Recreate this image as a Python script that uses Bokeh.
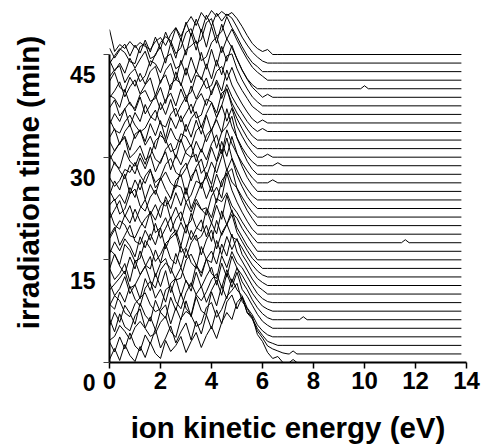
from bokeh.plotting import figure
from bokeh.models import Range1d, FixedTicker, LinearAxis
from bokeh.embed import file_html
from bokeh.resources import INLINE

# ---------------- data ----------------
# ion kinetic energy grid (eV) of the measured part of every spectrum
energy = [0.0, 0.2, 0.4, 0.6, 0.8, 1.0, 1.2, 1.4, 1.6, 1.8, 2.0, 2.2, 2.4, 2.6, 2.8,
          3.0, 3.2, 3.4, 3.6, 3.8, 4.0, 4.2, 4.4, 4.6, 4.8, 5.0, 5.2, 5.4, 5.6, 5.8,
          6.0, 6.2, 6.4, 6.6, 6.8, 7.0]
end_energy = 13.8

# irradiation time of each spectrum (min)
times = [0, 1.25, 2.5, 3.75, 5, 6.25, 7.5, 8.75, 10, 11.25, 12.5, 13.75, 15, 16.25,
         17.5, 18.75, 20, 21.25, 22.5, 23.75, 25, 26.25, 27.5, 28.75, 30, 31.25, 32.5,
         33.75, 35, 36.25, 37.5, 38.75, 40, 41.25, 42.5, 43.75, 45]

# ion counts (arbitrary units) on the energy grid, one list per spectrum
s00 = [3, 14, 2, 18, 7, 1, 16, 5, 20, 9, 4, 22, 11, 17, 26, 10, 21, 30, 15, 27, 36, 24, 40, 50, 43, 60, 66, 50, 46, 28, 21, 10, 4, 6, 0, 0]
s01 = [12, 2, 17, 5, 21, 8, 3, 19, 10, 25, 6, 16, 28, 11, 22, 31, 14, 33, 20, 39, 25, 44, 30, 52, 59, 45, 57, 41, 35, 23, 16, 8, 5, 3, 1, 0]
s02 = [5, 9, 20, 14, 6, 18, 24, 17, 9, 12, 23, 29, 14, 8, 27, 34, 30, 19, 22, 38, 43, 28, 36, 49, 55, 62, 44, 37, 27, 17, 10, 4, 2, 0, 0, 0]
s03 = [18, 5, 23, 10, 6, 21, 28, 9, 20, 7, 26, 32, 13, 29, 17, 36, 20, 40, 26, 22, 45, 31, 51, 38, 58, 47, 41, 29, 22, 12, 6, 2, 0, 0, 0, 0]
s04 = [2, 16, 6, 23, 15, 4, 25, 13, 7, 28, 16, 10, 31, 18, 35, 20, 13, 34, 42, 26, 38, 48, 33, 55, 41, 56, 39, 32, 23, 14, 7, 3, 0, 0, 0, 0]
s05 = [14, 24, 19, 7, 3, 16, 22, 27, 15, 8, 11, 30, 34, 18, 11, 27, 37, 25, 19, 28, 40, 46, 32, 50, 37, 52, 38, 30, 20, 12, 6, 2, 0, 0, 0, 0]
s06 = [7, 2, 19, 9, 25, 12, 5, 23, 30, 13, 22, 9, 28, 33, 15, 31, 20, 39, 24, 35, 44, 26, 48, 34, 55, 43, 36, 27, 18, 11, 5, 2, 0, 0, 0, 0]
s07 = [20, 7, 14, 26, 9, 18, 4, 24, 12, 29, 16, 32, 10, 25, 35, 21, 16, 38, 26, 44, 29, 24, 47, 35, 51, 40, 35, 26, 17, 9, 4, 1, 0, 0, 0, 0]
s08 = [4, 10, 16, 23, 6, 9, 19, 28, 13, 6, 24, 31, 26, 14, 16, 34, 40, 29, 21, 35, 43, 30, 50, 38, 60, 42, 33, 24, 15, 8, 4, 0, 0, 0, 0, 0]
s09 = [17, 6, 12, 22, 4, 25, 11, 19, 29, 9, 22, 27, 12, 32, 18, 37, 23, 17, 39, 26, 23, 45, 31, 49, 36, 47, 31, 23, 14, 7, 3, 0, 0, 0, 0, 0]
s10 = [8, 23, 11, 3, 20, 8, 26, 12, 8, 27, 14, 33, 18, 13, 31, 19, 34, 42, 22, 37, 47, 28, 44, 53, 40, 37, 29, 20, 12, 6, 2, 0, 0, 0, 0, 0]
s11 = [19, 14, 4, 24, 18, 7, 10, 28, 20, 7, 14, 25, 30, 35, 16, 21, 38, 28, 32, 43, 27, 48, 33, 44, 54, 36, 27, 18, 10, 5, 0, 0, 0, 0, 0, 0]
s12 = [6, 18, 9, 21, 14, 3, 23, 12, 26, 15, 32, 11, 24, 30, 14, 35, 20, 31, 40, 23, 37, 26, 49, 35, 50, 32, 23, 14, 7, 0, 0, 0, 0, 0, 0, 0]
s13 = [15, 24, 6, 16, 26, 10, 7, 21, 11, 28, 13, 23, 34, 16, 29, 18, 38, 24, 20, 42, 28, 46, 32, 56, 39, 33, 23, 15, 7, 0, 0, 0, 0, 0, 0, 0]
s14 = [4, 13, 22, 18, 7, 5, 16, 24, 30, 10, 15, 25, 11, 24, 31, 16, 22, 40, 33, 35, 25, 44, 41, 50, 37, 30, 21, 13, 6, 0, 0, 0, 0, 0, 0, 0]
s15 = [23, 9, 5, 19, 11, 25, 13, 6, 23, 14, 28, 34, 15, 27, 13, 32, 22, 35, 25, 19, 38, 47, 36, 61, 44, 32, 22, 13, 5, 0, 0, 0, 0, 0, 0, 0]
s16 = [7, 16, 25, 9, 20, 4, 17, 26, 11, 21, 8, 29, 17, 33, 20, 38, 17, 30, 43, 27, 40, 23, 45, 52, 57, 37, 25, 15, 7, 0, 0, 0, 0, 0, 0, 0]
s17 = [12, 18, 3, 8, 23, 28, 11, 6, 20, 27, 15, 11, 18, 32, 30, 15, 22, 36, 33, 40, 25, 43, 30, 48, 35, 29, 20, 12, 5, 0, 0, 0, 0, 0, 0, 0]
s18 = [18, 8, 14, 5, 21, 11, 29, 9, 24, 14, 31, 19, 10, 28, 34, 14, 32, 39, 20, 36, 24, 46, 59, 38, 50, 33, 22, 12, 5, 0, 0, 0, 0, 0, 0, 0]
s19 = [5, 19, 10, 26, 6, 20, 10, 24, 31, 12, 20, 28, 17, 12, 30, 37, 19, 33, 41, 23, 38, 27, 43, 62, 42, 30, 19, 11, 4, 0, 0, 0, 0, 0, 0, 0]
s20 = [14, 5, 11, 22, 19, 29, 16, 8, 21, 9, 14, 27, 33, 19, 15, 23, 34, 37, 18, 25, 44, 30, 50, 35, 55, 38, 25, 14, 6, 0, 0, 0, 0, 0, 0, 0]
s21 = [8, 21, 12, 4, 18, 9, 25, 14, 28, 11, 22, 31, 13, 28, 18, 32, 38, 21, 34, 23, 39, 48, 29, 53, 39, 29, 20, 12, 5, 0, 0, 0, 3, 0, 0, 0]
s22 = [20, 10, 6, 24, 13, 8, 21, 10, 27, 15, 11, 25, 31, 16, 35, 21, 17, 33, 22, 39, 45, 26, 42, 48, 58, 36, 24, 13, 5, 0, 0, 0, 0, 0, 0, 0]
s23 = [6, 15, 23, 28, 8, 13, 20, 6, 10, 25, 30, 26, 14, 17, 32, 29, 19, 35, 40, 24, 36, 46, 33, 57, 39, 28, 18, 10, 4, 0, 0, 0, 0, 3, 0, 0]
s24 = [16, 6, 14, 21, 7, 23, 27, 12, 21, 8, 26, 14, 29, 18, 15, 33, 20, 37, 23, 42, 26, 40, 52, 36, 49, 31, 21, 12, 5, 0, 0, 3, 0, 0, 0, 0]
s25 = [11, 20, 4, 17, 24, 10, 19, 7, 25, 13, 28, 10, 31, 20, 33, 17, 30, 37, 21, 35, 46, 31, 43, 60, 42, 30, 20, 11, 4, 0, 0, 0, 0, 0, 0, 0]
s26 = [21, 10, 7, 18, 25, 15, 8, 12, 22, 30, 16, 13, 26, 32, 18, 27, 36, 22, 25, 41, 38, 27, 47, 51, 37, 27, 19, 11, 4, 0, 0, 0, 0, 0, 0, 0]
s27 = [7, 18, 10, 23, 5, 19, 10, 27, 15, 11, 29, 17, 32, 15, 26, 35, 18, 31, 38, 26, 40, 49, 33, 47, 35, 26, 18, 10, 4, 0, 3, 0, 0, 0, 0, 0]
s28 = [15, 23, 7, 14, 21, 12, 26, 9, 18, 28, 13, 23, 30, 17, 34, 21, 37, 24, 35, 45, 28, 43, 32, 53, 38, 28, 19, 11, 4, 0, 3, 0, 0, 0, 0, 0]
s29 = [19, 16, 7, 25, 10, 6, 20, 24, 13, 16, 27, 11, 30, 35, 31, 18, 22, 39, 37, 26, 29, 43, 48, 34, 47, 33, 24, 16, 8, 4, 0, 0, 0, 0, 0, 0]
s30 = [8, 15, 24, 9, 19, 26, 12, 21, 28, 10, 25, 31, 16, 34, 20, 38, 23, 35, 26, 42, 27, 46, 31, 50, 52, 37, 26, 17, 9, 4, 0, 0, 0, 0, 0, 0]
s31 = [16, 25, 10, 6, 20, 11, 24, 13, 26, 31, 14, 27, 34, 17, 37, 22, 40, 25, 45, 28, 48, 31, 51, 36, 52, 38, 27, 18, 10, 5, 0, 3, 0, 0, 0, 0]
s32 = [12, 19, 23, 6, 15, 20, 7, 13, 28, 25, 16, 31, 35, 20, 24, 39, 43, 48, 28, 32, 46, 52, 36, 50, 41, 30, 19, 10, 4, 0, 0, 0, 0, 0, 0, 0]
s33 = [20, 9, 17, 7, 22, 12, 21, 29, 14, 26, 33, 17, 37, 22, 42, 25, 47, 30, 51, 33, 54, 37, 56, 41, 51, 40, 30, 21, 13, 8, 4, 0, 0, 0, 0, 0]
s34 = [8, 16, 23, 19, 10, 8, 25, 28, 13, 16, 29, 35, 31, 18, 24, 39, 43, 28, 32, 49, 53, 35, 40, 55, 44, 35, 25, 16, 9, 5, 0, 0, 0, 0, 0, 0]
s35 = [15, 5, 13, 19, 7, 18, 10, 23, 11, 26, 14, 31, 19, 35, 23, 41, 27, 44, 31, 48, 37, 50, 42, 49, 45, 36, 26, 18, 11, 6, 2, 0, 0, 0, 0, 0]
s36 = [25, 3, 10, 6, 13, 7, 12, 8, 5, 13, 17, 9, 20, 27, 18, 30, 38, 29, 42, 35, 44, 38, 43, 39, 42, 36, 28, 19, 11, 6, 3, 5, 0, 0, 0, 0]

# isolated single-channel counts far from the main distribution
bump_spectrum = [0, 1, 5, 14, 32]
bump_energy = [7.2, 7.2, 7.6, 11.6, 10.0]
bump_height = [3, 3, 3, 3, 3]

x_ticks = [0, 2, 4, 6, 8, 10, 12, 14]
y_ticks = [0, 15, 30, 45]
y_tick_labels = ["0", "15", "30", "45"]

spectra = [s00, s01, s02, s03, s04, s05, s06, s07, s08, s09, s10, s11, s12, s13,
           s14, s15, s16, s17, s18, s19, s20, s21, s22, s23, s24, s25, s26, s27,
           s28, s29, s30, s31, s32, s33, s34, s35, s36]

# ---------------- styling ----------------
COUNT_TO_MIN = 1 / 6.844      # vertical scale of a spectrum, in minutes per count
BUMP_HALF = 0.15
FONT = "Liberation Sans"

xs, ys = [], []
for i, (t, s) in enumerate(zip(times, spectra)):
    ex = list(energy)
    cy = list(s)
    for bi, be, bh in zip(bump_spectrum, bump_energy, bump_height):
        if bi == i:
            ex += [be - BUMP_HALF, be, be + BUMP_HALF]
            cy += [0, bh, 0]
    ex.append(end_energy)
    cy.append(0)
    xs.append(ex)
    ys.append([t + c * COUNT_TO_MIN for c in cy])

p = figure(width=481, height=446, output_backend="svg", toolbar_location=None,
           x_range=Range1d(0, 14), y_range=Range1d(0, 52.6),
           y_axis_location=None,
           min_border_left=109, min_border_right=15, min_border_top=2,
           min_border_bottom=84)
p.outline_line_color = None
p.xgrid.visible = False
p.ygrid.visible = False
p.background_fill_color = "white"
p.border_fill_color = "white"

p.multi_line(xs, ys, line_color="black", line_width=1)

# x axis
xa = p.xaxis[0]
xa.ticker = FixedTicker(ticks=x_ticks)
xa.bounds = (0, 14)
xa.axis_line_width = 2
xa.axis_line_color = "black"
xa.major_tick_out = 6
xa.major_tick_in = 0
xa.major_tick_line_width = 1.5
xa.minor_tick_line_color = None
xa.major_label_text_font = FONT
xa.major_label_text_font_style = "bold"
xa.major_label_text_font_size = "24px"
xa.major_label_text_color = "black"
xa.major_label_standoff = 3
xa.axis_label = "ion kinetic energy (eV)"
xa.axis_label_text_font = FONT
xa.axis_label_text_font_style = "bold"
xa.axis_label_text_font_size = "29.5px"
xa.axis_label_text_color = "black"
xa.axis_label_standoff = 19

# y axis: in the original each tick label sits one line below its tick
ya = LinearAxis(ticker=FixedTicker(ticks=y_ticks), bounds=(0, 45),
                major_label_overrides={t: "\n" + lbl for t, lbl in zip(y_ticks, y_tick_labels)},
                axis_line_width=2, axis_line_color="black",
                major_tick_out=6, major_tick_in=0, major_tick_line_width=1,
                major_tick_line_color="#444444", minor_tick_line_color=None,
                major_label_standoff=8,
                major_label_text_font=FONT, major_label_text_font_style="bold",
                major_label_text_font_size="23px", major_label_text_color="black",
                major_label_text_line_height=1.6,
                axis_label="irradiation time (min)", axis_label_text_font=FONT,
                axis_label_text_font_style="bold", axis_label_text_font_size="29.5px",
                axis_label_text_color="black", axis_label_standoff=22)
p.add_layout(ya, "left")

open("out.html", "w").write(file_html(p, INLINE))
